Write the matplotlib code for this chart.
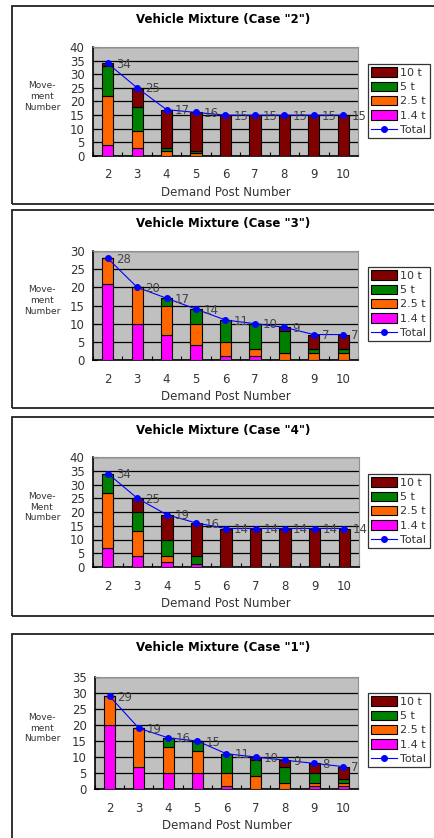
import matplotlib.pyplot as plt
from matplotlib.patches import Rectangle, Patch
from matplotlib.lines import Line2D

posts = ['2', '3', '4', '5', '6', '7', '8', '9', '10']
series = ['1.4 t', '2.5 t', '5 t', '10 t']
colors = {'1.4 t': '#FF00FF', '2.5 t': '#FF6600', '5 t': '#008000', '10 t': '#800000'}

# case "2"
c2_t14 = [4, 3, 0, 0, 0, 0, 0, 0, 0]
c2_t25 = [18, 6, 2, 1, 0, 0, 0, 0, 0]
c2_t5 = [11, 9, 1, 1, 0, 0, 0, 0, 0]
c2_t10 = [1, 7, 14, 14, 15, 15, 15, 15, 15]

# case "3"
c3_t14 = [21, 10, 7, 4, 1, 1, 0, 0, 0]
c3_t25 = [7, 10, 8, 6, 4, 2, 2, 2, 2]
c3_t5 = [0, 0, 2, 4, 6, 7, 6, 1, 1]
c3_t10 = [0, 0, 0, 0, 0, 0, 1, 4, 4]

# case "4"
c4_t14 = [7, 4, 2, 1, 0, 0, 0, 0, 0]
c4_t25 = [20, 9, 2, 0, 0, 0, 0, 0, 0]
c4_t5 = [7, 7, 6, 3, 0, 0, 0, 0, 0]
c4_t10 = [0, 5, 9, 12, 14, 14, 14, 14, 14]

# case "1"
c1_t14 = [20, 7, 5, 5, 1, 0, 0, 1, 1]
c1_t25 = [9, 12, 8, 7, 4, 4, 2, 1, 1]
c1_t5 = [0, 0, 3, 3, 6, 5, 5, 3, 1]
c1_t10 = [0, 0, 0, 0, 0, 1, 2, 3, 4]

W, H = 435, 838
fig = plt.figure(figsize=(W / 100, H / 100), dpi=100)


def fx(px):
    return px / W


def fy(py):
    return 1 - py / H


def plot_case(title, vals, ymax, frame, area, leg, ylab):
    # frame around the whole chart
    top, bot = frame
    fig.patches.append(Rectangle((fx(12), fy(bot)), fx(440) - fx(12), fy(top) - fy(bot),
                                 transform=fig.transFigure, fill=False,
                                 edgecolor='#222222', linewidth=1.3))
    l, t, r, b = area
    ax = fig.add_axes([fx(l), fy(b), fx(r) - fx(l), fy(t) - fy(b)])
    ax.set_facecolor('#C0C0C0')
    x = list(range(len(posts)))
    bottom = [0] * len(posts)
    for name in series:
        ax.bar(x, vals[name], 0.38, bottom=bottom, color=colors[name],
               edgecolor='black', linewidth=0.8, zorder=3)
        bottom = [a + v for a, v in zip(bottom, vals[name])]
    total = bottom
    ax.plot(x, total, color='#0000FF', linewidth=0.8, marker='o', markersize=4, zorder=5)
    for xi, v in zip(x, total):
        ax.annotate(str(v), (xi, v), xytext=(8, -1), textcoords='offset pixels',
                    ha='left', va='center', fontsize=8.5, color='#444444', zorder=6)
    ax.set_xlim(-0.5, 8.5)
    ax.set_ylim(0, ymax)
    ax.set_yticks(range(0, ymax + 1, 5))
    ax.yaxis.grid(True, color='black', linewidth=0.9, zorder=0)
    ax.set_axisbelow(True)
    ax.set_xticks([k + 0.5 for k in range(-1, 9)])
    ax.set_xticklabels([])
    ax.set_xticks(x, minor=True)
    ax.set_xticklabels(posts, minor=True)
    ax.tick_params(axis='x', which='major', direction='in', length=3, color='black')
    ax.tick_params(axis='x', which='minor', length=0, pad=9, labelsize=8.5, labelcolor='#333333')
    ax.tick_params(axis='y', direction='in', length=3, labelsize=8.5, labelcolor='#333333', pad=6)
    for s in ['top', 'right']:
        ax.spines[s].set_color('#909090')
    for s in ['left', 'bottom']:
        ax.spines[s].set_color('black')
        ax.spines[s].set_linewidth(1.2)
    ax.set_xlabel('Demand Post Number', fontsize=8.5, color='#333333', labelpad=3)
    fig.text(fx(42), fy((t + b) / 2 - 5), ylab, ha='center', va='center',
             fontsize=6.5, color='#333333', linespacing=1.25)
    fig.text(fx(223), fy(top + 13), title, ha='center', va='center',
             fontsize=8.5, fontweight='bold')
    handles = [Patch(facecolor=colors[n], edgecolor='black', linewidth=0.8)
               for n in ['10 t', '5 t', '2.5 t', '1.4 t']]
    handles.append(Line2D([], [], color='#0000FF', linewidth=0.8, marker='o', markersize=4))
    lt, lb = leg
    lg = fig.legend(handles, ['10 t', '5 t', '2.5 t', '1.4 t', 'Total'],
                    loc='upper left', bbox_to_anchor=(fx(368), fy(lt)),
                    fontsize=8, frameon=True, fancybox=False, borderpad=0.3,
                    handlelength=2.3, handleheight=0.9, handletextpad=0.3,
                    labelspacing=0.35, borderaxespad=0)
    lg.get_frame().set_edgecolor('black')
    lg.get_frame().set_linewidth(0.9)
    for txt in lg.get_texts():
        txt.set_color('#333333')


plot_case('Vehicle Mixture (Case "2")',
          {'1.4 t': c2_t14, '2.5 t': c2_t25, '5 t': c2_t5, '10 t': c2_t10},
          40, (6, 204), (93, 47, 358, 156), (64, 139), 'Move-\nment\nNumber')
plot_case('Vehicle Mixture (Case "3")',
          {'1.4 t': c3_t14, '2.5 t': c3_t25, '5 t': c3_t5, '10 t': c3_t10},
          30, (210, 408), (93, 251, 358, 360), (267, 343), 'Move-\nment\nNumber')
plot_case('Vehicle Mixture (Case "4")',
          {'1.4 t': c4_t14, '2.5 t': c4_t25, '5 t': c4_t5, '10 t': c4_t10},
          40, (417, 616), (93, 457, 359, 567), (474, 549), 'Move-\nMent\nNumber')
plot_case('Vehicle Mixture (Case "1")',
          {'1.4 t': c1_t14, '2.5 t': c1_t25, '5 t': c1_t5, '10 t': c1_t10},
          35, (634, 845), (95, 677, 358, 789), (693, 772), 'Move-\nment\nNumber')

fig.savefig('out.png', dpi=100)
